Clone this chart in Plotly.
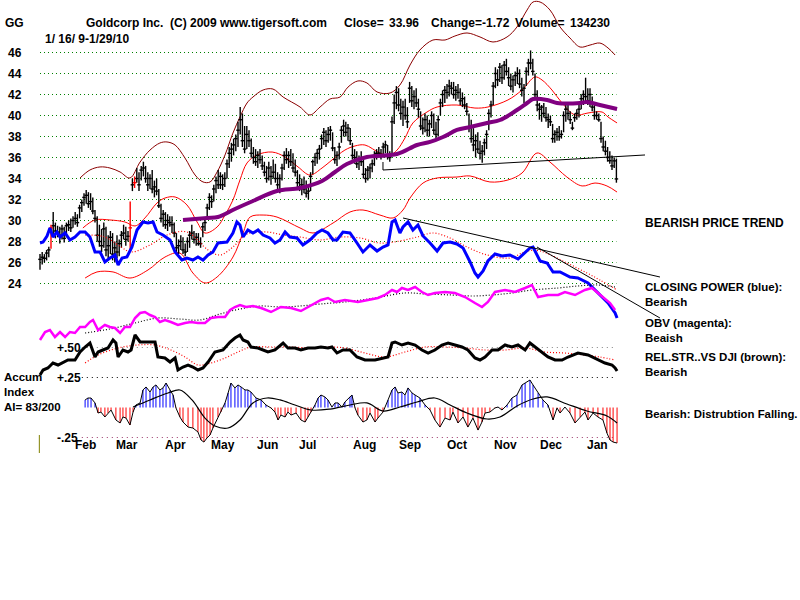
import plotly.graph_objects as go

# ---------------- DATA ----------------
# trading-day index 0 = 1/16/09 ... 262 = 1/29/10
price_high = [26.8,27.0,26.8,27.2,27.5,29.6,30.8,29.8,29.5,29.4,29.6,29.4,29.8,30.0,30.2,30.4,30.8,30.6,31.5,32.0,
              32.6,32.9,32.7,32.6,32.2,31.0,30.4,29.6,29.2,29.8,29.4,28.6,29.0,28.8,28.0,28.6,28.2,29.0,29.6,29.4,
              29.0,31.8,34.0,34.2,35.0,34.6,35.2,35.6,35.2,34.6,34.4,34.8,33.8,34.0,33.0,31.6,31.0,30.8,30.6,30.4,
              30.4,29.8,28.8,28.2,28.6,28.4,27.8,28.4,29.0,29.6,29.0,28.8,28.8,28.4,29.8,30.2,31.6,32.6,32.4,33.4,
              34.2,34.8,34.6,34.4,34.6,35.8,37.0,37.4,37.8,38.2,39.4,40.8,40.2,39.0,39.0,38.6,37.8,37.0,36.8,36.6,
              36.8,36.2,35.6,35.2,35.6,35.2,35.8,35.4,34.6,34.4,35.4,36.6,36.9,36.6,36.8,36.4,35.8,34.8,34.4,34.0,
              34.2,33.8,33.2,34.6,35.8,36.4,36.8,37.2,38.2,38.8,38.6,38.9,39.0,38.4,37.0,36.6,37.4,39.0,39.6,39.4,
              39.2,38.8,37.4,36.8,36.6,36.2,36.6,35.8,35.0,35.2,35.4,35.8,36.6,36.8,37.0,36.8,37.4,37.6,37.2,36.6,
              39.9,42.0,42.8,42.6,41.6,41.4,41.6,40.8,43.2,42.8,42.4,42.6,41.6,40.4,39.8,40.2,40.0,39.6,40.4,40.2,
              39.4,40.0,41.6,42.4,42.8,43.0,43.4,43.2,43.2,42.8,43.0,42.6,42.2,41.8,41.2,40.2,39.6,38.8,38.2,38.4,
              37.6,37.2,37.8,38.6,40.6,41.4,43.2,44.6,44.4,45.0,44.8,45.2,45.4,44.6,44.0,43.8,44.2,44.6,44.4,43.6,
              43.0,44.6,45.4,46.2,45.4,44.0,42.4,41.2,41.0,41.2,40.8,40.2,40.0,39.2,38.6,38.8,39.0,38.6,40.4,41.0,
              41.0,40.4,39.4,40.2,40.6,41.0,42.0,42.4,43.6,42.6,42.6,41.8,41.0,40.4,40.2,39.4,38.0,37.6,37.0,36.6,
              36.2,36.0,35.9]
price_low = [25.3,25.8,26.0,26.2,26.5,27.3,28.5,28.3,28.4,27.8,28.2,27.9,28.4,29.0,28.9,29.3,29.6,29.4,30.2,30.8,
             31.4,31.6,31.2,31.0,30.6,29.8,28.0,27.5,27.0,27.4,26.6,26.4,26.8,26.2,26.0,26.4,26.6,27.4,28.2,27.6,
             28.0,27.2,32.8,33.1,33.6,32.8,33.8,34.2,33.6,32.8,33.0,32.6,32.2,32.4,31.2,29.8,29.4,29.2,29.0,29.4,
             28.8,28.4,27.0,26.8,27.2,26.8,26.6,27.0,27.4,28.2,27.8,27.6,27.6,27.4,28.4,29.0,30.2,31.0,31.2,31.8,
             32.6,33.0,33.0,32.9,33.2,34.0,35.0,35.6,36.2,36.6,37.0,38.2,37.0,36.4,36.8,37.0,36.0,35.4,35.2,35.0,
             35.4,34.8,34.2,33.6,33.8,33.4,34.0,33.6,32.8,32.6,33.8,34.8,35.4,35.0,35.2,34.6,34.2,33.2,32.8,32.4,
             32.6,32.2,32.0,32.8,34.4,35.2,35.4,35.8,36.8,37.2,37.0,37.4,37.6,36.6,35.4,35.2,35.8,37.4,38.0,38.0,
             37.6,37.2,35.8,35.4,35.0,34.8,35.2,34.0,33.6,33.8,34.0,34.6,35.2,35.8,36.0,35.8,36.0,36.4,35.8,35.6,
             36.2,39.2,40.6,40.4,39.6,39.0,39.6,38.8,41.2,40.8,40.6,40.8,39.8,38.6,38.2,38.4,38.0,38.0,38.8,38.2,
             37.8,38.0,40.0,40.8,41.2,41.6,41.8,42.0,41.6,41.4,41.6,41.0,40.8,40.6,40.0,38.4,37.4,36.6,36.0,36.4,
             35.8,35.5,36.2,36.8,38.6,39.8,41.0,42.6,42.8,43.2,43.0,43.4,43.8,42.8,42.4,42.2,42.8,43.0,42.6,41.8,
             41.2,42.8,43.8,44.4,43.8,41.6,40.4,39.6,39.4,39.8,39.4,38.8,39.0,37.4,37.4,37.6,37.6,37.8,38.4,39.4,
             39.6,39.2,38.6,39.4,39.6,39.8,40.6,41.0,41.2,41.0,40.8,40.4,39.6,39.6,39.4,37.4,36.6,36.2,35.6,35.4,
             34.8,35.0,33.6]
price_close = [26.3,26.5,26.4,26.9,27.2,29.3,29.5,29.0,28.9,28.6,29.2,28.3,29.5,29.6,29.3,30.0,30.2,29.8,31.2,31.7,
               32.2,32.4,31.6,31.8,30.9,30.2,28.6,28.0,27.6,29.2,27.2,27.6,28.4,26.8,27.4,27.0,27.8,28.6,28.8,28.2,
               28.5,29.3,33.4,33.6,34.0,33.4,34.8,35.0,34.0,33.4,34.0,33.0,33.2,32.8,31.4,30.2,30.6,29.6,30.0,29.8,
               29.6,28.8,27.4,27.6,28.0,27.2,27.0,28.0,28.6,28.8,28.2,28.4,27.8,27.8,29.4,29.8,31.2,32.2,31.8,33.0,
               33.8,33.4,34.2,33.4,34.0,35.4,36.4,36.8,37.2,37.8,38.6,39.6,37.6,36.8,38.2,37.6,36.4,36.0,35.6,36.2,
               35.8,35.2,34.6,34.0,35.0,34.2,34.6,34.0,33.4,34.0,35.0,36.2,35.8,36.2,35.6,35.0,34.6,33.6,33.2,33.4,
               33.0,32.6,32.8,34.2,35.6,36.0,36.4,36.8,37.8,38.4,37.6,38.2,38.6,36.9,35.8,36.2,37.0,38.6,39.0,38.4,
               38.8,37.6,36.2,36.0,35.4,35.8,35.6,34.4,34.0,34.8,35.0,35.4,36.2,36.4,36.4,36.2,37.0,37.2,36.2,36.0,
               39.4,41.2,42.2,41.0,40.2,40.8,40.0,39.4,42.6,41.4,41.8,41.2,40.6,39.0,38.8,39.6,38.6,39.2,40.0,38.6,
               38.2,39.6,41.2,42.0,42.4,42.2,42.8,42.6,42.0,42.4,42.2,41.4,41.6,41.0,40.4,38.8,37.8,37.2,37.6,36.8,
               36.4,36.6,37.4,38.2,40.2,41.0,42.8,44.0,43.4,44.6,43.6,44.8,44.2,43.6,42.8,43.4,43.8,44.0,43.0,42.4,
               42.6,44.2,45.0,45.0,44.2,42.0,41.0,40.6,40.8,40.2,39.8,39.6,39.4,37.8,38.2,38.4,38.0,38.2,40.0,40.6,
               40.2,39.6,38.8,39.8,40.2,40.6,41.6,42.0,41.8,41.4,42.0,40.8,40.0,40.0,39.6,37.8,37.0,36.6,36.0,35.7,
               35.2,35.68,33.96]
red_bar_days = [5, 41, 43]

band_top_day = [18.2,22.7,27.3,31.8,36.4,40.9,45.5,50.0,54.5,57.7,61.4,65.9,70.5,74.1,77.3,80.5,84.1,87.7,90.9,94.1,
                96.8,101.4,105.9,110.5,118.2,122.7,127.3,131.8,136.4,140.0,144.5,148.6,153.2,159.1,163.6,168.2,172.7,
                178.6,184.1,188.6,194.1,200.0,205.9,212.3,216.8,221.4,224.1,227.3,231.8,236.4,240.9,245.5,250.0,254.5,
                258.2,261.4]
band_top = [34.05,34.81,35.10,35.00,34.62,34.05,35.57,36.71,37.38,37.48,37.19,35.95,34.33,33.67,33.67,34.62,36.24,38.33,
            39.86,41.19,41.76,42.43,42.52,41.76,40.81,40.05,40.81,41.57,41.76,42.71,43.29,43.10,42.24,42.14,42.90,44.81,
            46.24,47.19,47.19,47.57,47.86,47.48,47.00,47.48,48.43,50.05,50.81,50.81,50.05,48.43,47.38,46.52,46.71,46.90,
            46.43,45.76]
band_mid_day = [19.5,25.0,31.8,38.6,43.2,47.7,53.2,56.8,61.4,66.8,71.4,75.0,80.5,84.1,87.7,90.9,94.1,98.6,105.5,111.4,
                117.3,122.7,128.2,132.7,138.6,143.2,147.7,154.5,159.1,162.3,165.9,169.5,175.9,180.5,189.5,197.7,203.6,
                212.7,219.1,225.0,228.2,232.7,237.3,243.2,249.1,255.5,258.2,262.3]
band_mid = [29.29,30.05,30.05,29.86,29.48,30.24,31.67,32.14,32.24,31.48,29.86,28.81,29.38,30.52,31.95,33.86,35.48,36.24,
            36.52,36.05,35.10,34.33,35.00,35.76,36.71,37.10,37.19,36.43,36.24,36.71,37.86,39.29,40.33,40.81,41.00,40.71,
            40.81,41.48,42.43,43.67,43.38,42.43,41.19,40.05,40.24,40.33,39.86,39.29]
band_low_day = [20.5,25.9,33.2,40.9,49.1,56.8,63.6,69.5,75.0,80.5,87.7,92.3,95.5,101.4,107.7,118.2,124.1,133.2,140.9,
                146.8,154.5,160.5,165.0,168.2,174.1,180.5,189.5,195.5,204.5,212.7,219.1,225.9,231.8,239.5,246.4,252.3,
                257.7,262.3]
band_low = [24.52,25.10,25.10,24.52,25.29,26.52,26.90,25.00,24.05,24.62,26.52,28.81,30.33,30.52,30.33,29.29,28.81,29.76,
            30.81,31.00,30.52,30.24,31.00,32.14,33.57,34.05,34.14,34.24,33.67,33.86,34.52,36.43,35.57,34.14,33.29,33.57,
            33.29,32.71]
ma50_day = [65.0,75.9,80.9,88.6,96.8,107.7,118.2,128.2,134.1,139.5,148.6,162.3,171.4,177.3,183.2,189.5,195.5,203.2,209.1,
            216.8,221.4,224.1,230.5,235.0,245.5,248.6,254.5,262.3]
ma50 = [30.05,30.24,30.33,31.10,31.86,32.81,33.10,33.76,34.62,35.38,36.05,36.33,37.19,37.48,37.95,38.62,38.90,39.29,39.57,
        40.52,41.19,41.57,41.48,41.19,41.19,41.29,41.00,40.62]
support_day = [155.9, 155.9, 275.0]
support_price = [35.57, 34.81, 36.24]

cp_day = [0.0,1.4,3.2,4.5,5.9,7.7,9.1,11.4,13.6,15.9,18.2,20.5,22.7,25.0,27.3,29.5,31.8,34.1,35.5,37.3,
          39.5,41.8,44.1,46.8,49.1,51.4,53.2,55.9,59.1,61.4,64.5,66.8,69.5,71.8,74.1,76.4,78.6,80.9,85.0,87.7,
          89.5,90.9,92.3,94.5,96.8,99.1,101.4,104.5,106.8,109.1,111.4,113.6,116.8,119.5,122.7,125.9,128.2,130.9,133.2,135.0,
          137.7,140.9,144.1,146.8,150.0,153.2,155.9,158.2,160.0,161.4,163.6,165.0,167.3,169.5,171.8,174.1,177.3,180.5,183.2,186.4,
          189.5,192.3,195.5,197.7,199.1,201.4,203.6,206.8,210.0,213.6,217.3,220.5,222.7,224.1,227.3,230.5,233.2,236.4,240.9,244.5,
          249.1,252.3,255.5,258.2,261.4,262.3]
cp_val = [11.4,11.6,12.8,14.4,12.6,13.6,12.6,13.4,12.0,12.6,13.6,13.6,12.6,9.6,9.6,7.6,8.4,9.0,7.0,8.4,
          8.6,10.6,14.0,15.6,15.4,15.6,13.6,13.0,12.0,9.6,8.0,8.4,8.0,8.6,8.0,9.0,9.6,11.4,11.6,13.4,
          15.6,15.0,12.6,14.0,13.4,14.0,13.0,12.4,11.4,12.0,13.6,12.6,12.4,11.0,12.0,13.4,14.0,13.4,12.0,12.0,
          13.6,13.4,11.4,9.6,11.0,9.8,10.6,11.0,15.6,16.0,13.4,14.6,15.6,14.0,15.0,12.8,11.4,9.8,11.4,11.6,
          11.2,10.4,7.6,5.4,4.6,5.8,7.8,9.2,8.8,9.0,8.2,9.6,10.4,10.6,7.8,7.4,5.6,5.6,4.6,4.4,
          3.4,2.0,0.6,-0.6,-2.6,-3.6]
cpma_day = [20.5,29.5,36.8,41.4,50.0,57.7,66.8,76.4,81.8,87.7,94.1,103.2,110.5,118.2,127.3,136.4,145.5,154.5,163.6,171.4,
            178.6,186.4,194.1,203.2,213.6,221.4,227.3,239.5,248.6,254.5,262.3]
cpma_val = [13.0,12.6,10.6,9.6,11.0,13.0,13.6,10.0,9.0,10.6,13.2,13.6,13.0,12.6,12.0,12.6,12.4,11.4,11.8,12.6,
            13.4,12.4,10.6,9.0,8.4,9.8,9.8,7.4,5.4,4.0,2.0]
cp_trend1_day = [165.0, 281.8]
cp_trend1_val = [16.4, 4.6]
cp_trend2_day = [225.9, 281.8]
cp_trend2_val = [10.6, -3.6]

obv_day = [0.0,2.3,4.5,6.8,9.1,11.4,13.6,15.9,18.2,20.5,22.7,24.1,26.4,29.5,31.8,34.1,36.4,38.6,40.9,43.2,
           45.5,47.7,50.0,52.3,54.5,56.8,59.5,62.7,65.9,68.6,71.8,75.0,77.7,80.9,84.1,86.4,88.6,90.9,93.6,96.8,
           100.5,105.0,109.5,114.1,118.6,121.8,125.0,127.7,130.9,134.1,138.6,144.5,149.1,153.6,156.8,160.0,162.3,164.5,167.3,170.5,
           173.6,176.4,179.5,184.1,188.6,193.2,197.7,200.9,203.6,206.8,211.4,215.9,220.5,223.6,226.4,230.9,235.5,238.6,243.2,247.7,
           250.9,253.6,256.8,259.1,261.4]
obv_val = [0,4,5,1.5,4,1.5,4,3.5,6.5,6.5,9,10,5,7.5,6.5,6,3.5,6.5,6.5,11,
           13.5,14,12.5,11.5,9,10,9,7.5,8.5,9,8.5,8.5,11,11.5,11.5,15,16.5,17.5,16.5,17,
           16,14,16.5,16,14.5,16.5,18.5,20,21,19,20,19,20,21,22.5,25,24,26,25,26.5,
           24,22.5,23.5,24,23.5,21.5,18.5,16.5,19,24,25,24,26,27.5,21.5,22.5,22.5,24,22.5,25,
           26,23.5,21,18.5,15]
obvma_day = [20.5,31.8,43.2,53.6,63.6,72.7,81.8,90.9,100.0,109.1,118.2,127.3,138.6,152.3,165.9,175.0,187.3,196.4,205.5,
             214.5,223.6,235.5,244.5,253.6,261.4]
obvma_val = [3.5,5.5,8.5,11,10.5,10,13,15.5,17,16.5,17,18,19,21,23.5,23,22.5,22,22.5,23.5,25,26,27,27.5,26.5]

rs_day = [0.0,1.4,3.6,5.9,8.2,10.5,12.7,15.9,18.2,20.5,22.7,25.0,26.4,28.6,30.9,33.2,34.5,35.5,37.7,40.0,
          41.4,43.2,45.5,49.1,52.3,53.6,56.8,59.1,61.4,62.7,65.0,67.3,69.5,71.8,74.1,76.4,79.5,83.2,86.4,88.6,
          90.9,92.3,94.5,95.9,99.1,103.6,106.8,110.5,112.7,115.9,118.6,121.8,125.0,127.7,130.9,132.7,135.0,137.7,140.9,144.1,
          147.7,152.3,155.5,158.2,160.0,161.4,164.5,167.3,170.5,173.6,176.4,179.5,182.7,185.5,188.6,191.8,194.5,197.7,200.0,202.3,
          205.5,208.2,211.4,214.5,217.3,220.5,222.7,225.0,228.2,230.9,234.1,237.3,240.0,244.5,249.1,252.3,256.8,260.0,261.4,262.3]
rs_val = [0.925,0.95,0.96,0.985,0.975,0.99,1.0,1.0,1.04,1.065,1.085,1.015,1.04,1.05,1.06,1.10,1.085,1.015,1.05,1.04,
          1.05,1.125,1.09,1.09,1.09,1.015,1.01,0.99,1.01,0.95,0.965,0.975,0.965,0.95,0.96,0.99,1.04,1.05,1.09,1.11,
          1.125,1.10,1.09,1.065,1.06,1.04,1.05,1.085,1.06,1.06,1.05,1.06,1.06,1.065,1.06,1.065,1.035,1.05,1.05,1.015,
          1.0,1.0,1.01,1.015,1.085,1.09,1.075,1.085,1.075,1.05,1.035,1.05,1.075,1.085,1.075,1.065,1.05,1.01,1.0,1.015,
          1.05,1.05,1.075,1.065,1.075,1.05,1.085,1.065,1.035,1.015,1.0,1.0,1.015,1.035,1.025,1.01,0.985,0.975,0.96,0.945]
rsma_day = [20.5,26.4,35.5,44.5,52.3,59.5,65.9,71.8,77.7,84.1,90.0,95.9,105.0,114.1,123.2,130.9,138.6,147.7,156.8,165.9,
            175.0,184.1,193.2,202.3,211.4,220.5,229.5,238.6,247.7,254.5,261.4]
rsma_val = [0.985,1.025,1.06,1.075,1.075,1.05,1.015,0.975,0.985,1.01,1.04,1.065,1.065,1.065,1.06,1.065,1.06,1.035,1.015,
            1.04,1.065,1.065,1.06,1.05,1.05,1.06,1.04,1.035,1.025,1.015,1.0]

ai_day = [20.5,21.8,23.2,25.0,26.4,27.7,29.5,30.9,32.3,34.5,36.4,37.7,39.1,40.9,42.3,43.6,45.5,46.8,48.2,50.0,
          51.4,52.7,54.5,55.9,57.3,59.1,60.5,61.8,63.6,65.0,67.3,69.5,71.8,73.2,74.5,75.9,77.3,78.6,80.9,82.3,
          84.1,85.5,86.8,88.6,90.0,91.4,93.2,94.5,95.9,98.2,100.5,102.7,105.0,106.8,108.2,109.5,111.4,112.7,114.1,116.4,
          118.6,120.5,121.8,123.2,125.0,126.4,127.7,129.5,130.9,132.7,134.1,135.5,137.3,138.6,140.9,141.8,143.2,144.5,146.8,148.6,
          150.0,152.3,153.6,155.9,158.2,160.0,161.4,162.7,164.5,165.9,167.3,169.1,170.5,172.7,175.0,177.3,179.5,181.8,184.1,186.4,
          187.7,190.0,192.3,194.5,196.8,199.1,200.9,202.3,204.5,206.8,208.2,210.0,212.3,214.5,216.8,219.1,220.5,222.7,224.1,226.4,
          228.6,230.9,233.2,235.0,236.4,238.6,240.9,243.2,245.5,247.7,249.1,251.4,253.6,255.9,257.7,259.1,260.5,262.3]
ai_val = [0.063,0.079,0.079,0.038,-0.046,-0.038,-0.079,-0.046,-0.021,-0.104,-0.129,-0.079,-0.088,-0.146,-0.038,0.021,0.038,0.146,0.171,0.129,
          0.171,0.188,0.146,0.163,0.204,0.146,0.104,-0.004,-0.079,-0.121,-0.163,-0.171,-0.204,-0.271,-0.288,-0.254,-0.229,-0.171,-0.079,-0.038,
          0.038,0.121,0.204,0.163,0.188,0.171,0.146,0.146,0.129,0.079,0.063,0.021,-0.004,-0.038,-0.104,-0.063,-0.079,-0.038,-0.063,-0.046,
          -0.104,-0.121,-0.079,-0.038,0.021,0.079,0.104,0.088,0.063,0.004,0.038,0.038,0.004,0.046,0.088,0.104,-0.004,-0.063,-0.121,-0.104,
          -0.046,-0.121,-0.088,-0.038,0.063,0.146,0.171,0.121,0.129,0.104,0.163,0.121,0.104,0.079,0.021,-0.021,-0.104,-0.163,-0.088,-0.104,
          -0.038,-0.129,-0.079,-0.163,-0.088,-0.188,-0.121,-0.046,-0.038,-0.004,0.004,-0.021,0.021,0.079,0.104,0.188,0.204,0.229,0.188,0.121,
          0.063,0.021,-0.104,-0.004,-0.046,0.004,-0.046,-0.129,-0.079,-0.038,-0.104,-0.046,-0.079,-0.104,-0.213,-0.271,-0.288,-0.296]
aima_day = [42.3,50.0,58.2,63.6,69.1,75.0,79.5,85.5,90.9,96.8,103.2,109.1,115.9,123.2,131.8,140.9,148.6,155.9,163.6,171.4,
            179.5,186.4,194.1,203.2,209.1,216.8,224.1,230.5,239.5,248.6,257.7,262.3]
aima_val = [0.004,0.063,0.121,0.146,0.063,-0.088,-0.154,-0.171,-0.104,0.038,0.079,0.063,0.021,-0.021,-0.013,0.021,0.038,
            -0.029,0.004,0.046,0.079,0.021,-0.046,-0.096,-0.079,0.013,0.071,0.088,0.029,-0.029,-0.071,-0.129]
ai_levels = [0.50, 0.25, -0.25]
ai_level_labels = ["+.50", "+.25", "-.25"]

price_ticks = [46, 44, 42, 40, 38, 36, 34, 32, 30, 28, 26, 24]
month_labels = ["Feb", "Mar", "Apr", "May", "Jun", "Jul", "Aug", "Sep", "Oct", "Nov", "Dec", "Jan"]
month_label_day = [20.5, 39.5, 61.4, 83.2, 103.2, 121.8, 147.3, 168.2, 189.5, 211.8, 232.3, 253.2]

# ---------------- FIGURE ----------------
W, H = 800, 600
FONT = "Liberation Sans, Arial, sans-serif"
fig = go.Figure()

def line(x, y, color, width, yaxis="y", dash="solid", shape="linear"):
    fig.add_trace(go.Scatter(x=x, y=y, mode="lines", yaxis=yaxis, hoverinfo="skip", showlegend=False,
                             line=dict(color=color, width=width, dash=dash, shape=shape)))

# bands and price
line(band_top_day, band_top, "#8B0000", 1, shape="spline")
line(band_mid_day, band_mid, "#FF0000", 1, shape="spline")
line(band_low_day, band_low, "#FF0000", 1, shape="spline")

def bars(days, color):
    vx, vy, tx, ty = [], [], [], []
    for i in days:
        vx += [i, i, None]; vy += [price_low[i], price_high[i], None]
        tx += [i - 0.8, i + 0.8, None]; ty += [price_close[i], price_close[i], None]
    line(vx, vy, color, 1.4)
    line(tx, ty, color, 1.4)

black_days = [i for i in range(len(price_close)) if i not in red_bar_days]
bars(black_days, "#000000")
bars(red_bar_days, "#FF0000")
line(ma50_day, ma50, "#800080", 4, shape="spline")
line(support_day, support_price, "#000000", 1)

# closing power
line(cpma_day, cpma_val, "#FF0000", 1.2, yaxis="y2", dash="1px,2px", shape="spline")
line(cp_day, cp_val, "#0000FF", 3, yaxis="y2")
line(cp_trend1_day, cp_trend1_val, "#000000", 1, yaxis="y2")
line(cp_trend2_day, cp_trend2_val, "#000000", 1, yaxis="y2")

# OBV
line(obvma_day, obvma_val, "#000000", 1.2, yaxis="y3", dash="1px,2px", shape="spline")
line(obv_day, obv_val, "#FF00FF", 2.5, yaxis="y3")

# relative strength
line(rsma_day, rsma_val, "#FF0000", 1.2, yaxis="y4", dash="1px,2px", shape="spline")
line(rs_day, rs_val, "#000000", 3, yaxis="y4")

# accumulation index histogram
px_, py_, nx_, ny_ = [], [], [], []
for d, v in zip(ai_day, ai_val):
    if v >= 0:
        px_ += [d, d, None]; py_ += [0, v, None]
    else:
        nx_ += [d, d, None]; ny_ += [0, v, None]
line(px_, py_, "#0000FF", 1, yaxis="y5")
line(nx_, ny_, "#FF0000", 1, yaxis="y5")
line(ai_day, ai_val, "#000000", 1, yaxis="y5")
line(aima_day, aima_val, "#000000", 1.2, yaxis="y5", shape="spline")

# axis geometry (pixel mapping of the original chart)
x0_px, px_per_day = 40.0, 2.2
xr = [-x0_px / px_per_day, (W - x0_px) / px_per_day]
def yr(a, b):  # value = a - ypix / b
    return [a - H / b, a]

shapes = []
for p in price_ticks:
    shapes.append(dict(type="line", xref="x", yref="y", x0=0, x1=262, y0=p, y1=p, layer="below",
                       line=dict(color="#008000", width=1, dash="1px,3px")))
lvl_colors = ["#808080", "#000000", "#993366"]
for lv, c in zip(ai_levels, lvl_colors):
    shapes.append(dict(type="line", xref="x", yref="y5", x0=19, x1=262, y0=lv, y1=lv, layer="below",
                       line=dict(color=c, width=1, dash="1px,4px")))
shapes.append(dict(type="line", xref="x", yref="paper", x0=-0.3, x1=-0.3, y0=1 - 453 / H, y1=1 - 435 / H,
                   line=dict(color="#808000", width=1)))

ann = []
def txt(s, xpx, ypx, anchor="left", size=12):
    ann.append(dict(text="<b>" + s + "</b>", xref="paper", yref="paper", x=xpx / W, y=1 - ypx / H,
                    xanchor=anchor, yanchor="middle", showarrow=False, align="left",
                    font=dict(family=FONT, size=size, color="#000000")))

txt("GG", 3, 23)
txt("Goldcorp Inc.", 84, 23)
txt("(C) 2009 www.tigersoft.com", 168, 23)
txt("Close=", 342, 23)
txt("33.96", 387, 23)
txt("Change=-1.72", 429, 23)
txt("Volume=", 513, 23)
txt("134230", 568, 23)
txt("1/ 16/ 9-1/29/10", 43, 39)
for p in price_ticks:
    ann.append(dict(text="<b>%d</b>" % p, xref="paper", yref="y", x=6 / W, y=p, xanchor="left",
                    yanchor="middle", showarrow=False, font=dict(family=FONT, size=12, color="#000000")))
for lab, lv in zip(ai_level_labels, ai_levels):
    ann.append(dict(text="<b>" + lab + "</b>", xref="paper", yref="y5", x=55 / W, y=lv, xanchor="left",
                    yanchor="middle", showarrow=False, font=dict(family=FONT, size=12, color="#000000")))
for lab, d in zip(month_labels, month_label_day):
    ann.append(dict(text="<b>" + lab + "</b>", xref="x", yref="paper", x=d, y=1 - 445 / H, xanchor="center",
                    yanchor="middle", showarrow=False, font=dict(family=FONT, size=12, color="#000000")))
txt("Accum<br>Index<br>AI= 83/200", 2, 392, size=11.5)
txt("BEARISH PRICE TREND", 643, 223)
txt("CLOSING POWER (blue):<br>Bearish", 643, 294, size=11.5)
txt("OBV (magenta):<br>Beaish", 643, 330, size=11.5)
txt("REL.STR..VS DJI (brown):<br>Bearish", 643, 365, size=11.5)
txt("Bearish: Distrubtion Falling.", 643, 414, size=11.4)

ax = dict(visible=False, fixedrange=True, domain=[0, 1])
fig.update_layout(
    width=W, height=H, autosize=False,
    margin=dict(l=0, r=0, t=0, b=0, pad=0),
    paper_bgcolor="white", plot_bgcolor="white",
    xaxis=dict(ax, range=xr),
    yaxis=dict(ax, range=yr(51.0, 10.5)),
    yaxis2=dict(ax, range=yr(60.0, 5.0), overlaying="y"),
    yaxis3=dict(ax, range=yr(170.0, 2.0), overlaying="y"),
    yaxis4=dict(ax, range=yr(2.8, 200.0), overlaying="y"),
    yaxis5=dict(ax, range=yr(407.5 / 120, 120.0), overlaying="y"),
    shapes=shapes, annotations=ann, showlegend=False,
)
fig.write_html("out.html")
